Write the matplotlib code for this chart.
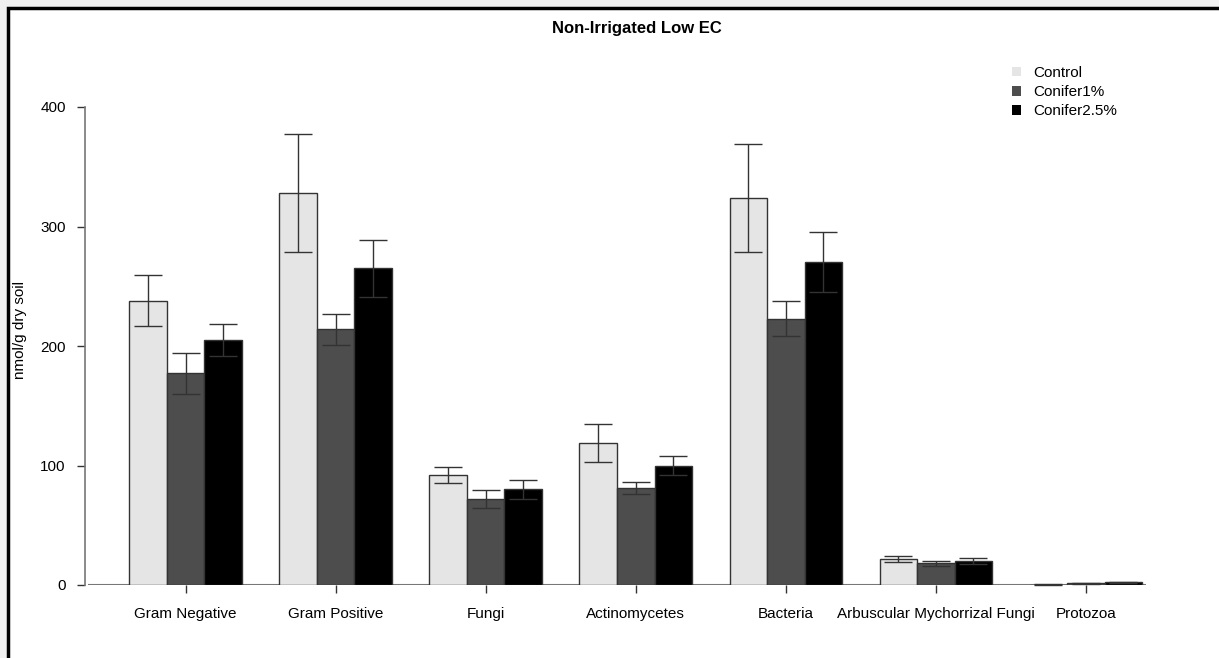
import matplotlib.pyplot as plt
import matplotlib.patches as mpatches
import numpy as np

plt.rcParams['font.family'] = ['Liberation Sans', 'DejaVu Sans']

categories = ['Gram Negative', 'Gram Positive', 'Fungi', 'Actinomycetes',
              'Bacteria', 'Arbuscular Mychorrizal Fungi', 'Protozoa']
treatments = ['Control', 'Conifer1%', 'Conifer2.5%']

control = [238, 328, 92, 119, 324, 21.8, 0.3]
control_err = [21, 49, 7, 16, 45, 2.6, 0.2]
conifer1 = [177, 214, 72, 81, 223, 18.1, 1.4]
conifer1_err = [17, 13, 7.5, 5, 15, 1.8, 0.4]
conifer25 = [205, 265, 80, 100, 270, 20.0, 2.2]
conifer25_err = [13, 24, 8, 8, 25, 2.3, 0.5]

colors = ['#e5e5e5', '#4d4d4d', '#000000']

W, H = 1219, 658
fig = plt.figure(figsize=(W / 100, H / 100), dpi=100)

# outer light strip and black frame like the screenshot
fig.patches.append(mpatches.Rectangle((0, 0), 1, 1, transform=fig.transFigure,
                                      facecolor='#f0f0f0', edgecolor='none', zorder=-3))
fig.patches.append(mpatches.Rectangle((8 / W, -0.1), 1.2, 1 - 8 / H + 0.1,
                                      transform=fig.transFigure, facecolor='white',
                                      edgecolor='black', linewidth=2.5, zorder=-2))

ax = fig.add_axes([88 / W, (H - 585) / H, (1146 - 88) / W, (585 - 107) / H])
ax.set_facecolor('none')

series = [(control, control_err), (conifer1, conifer1_err), (conifer25, conifer25_err)]
n = len(categories)
for j, (vals, errs) in enumerate(series):
    x = np.arange(n) * 4 + 1 + j + 0.5
    ax.bar(x, vals, width=1, color=colors[j], edgecolor='#333333', linewidth=1,
           label=treatments[j], zorder=2)
    ax.errorbar(x, vals, yerr=errs, fmt='none', ecolor='#333333', elinewidth=1,
                capsize=10, capthick=1, zorder=3, clip_on=False)

ax.set_xlim(-0.1, 28.1)
ax.set_ylim(0, 400)
ax.axhline(0, color='#777777', linewidth=1.5, zorder=1, xmin=0, xmax=1)

for s in ['top', 'right', 'bottom']:
    ax.spines[s].set_visible(False)
ax.spines['left'].set_color('#777777')
ax.spines['left'].set_linewidth(1.2)
ax.spines['left'].set_position(('outward', 2))

ax.set_yticks([0, 100, 200, 300, 400])
ax.set_xticks(np.arange(n) * 4 + 2.5)
ax.set_xticklabels(categories)
ax.tick_params(axis='both', labelsize=11, length=6, color='#333333', width=1)
ax.tick_params(axis='x', pad=10)
ax.tick_params(axis='y', pad=8)

fig.text(20 / W, 1 - 330 / H, 'nmol/g dry soil', rotation=90, ha='center', va='center',
         fontsize=11)
fig.text(637 / W, 1 - 29 / H, 'Non-Irrigated Low EC', ha='center', va='center',
         fontsize=12, fontweight='bold')

handles = [mpatches.Patch(facecolor=c, edgecolor='none') for c in colors]
fig.legend(handles, treatments, loc='upper left', bbox_to_anchor=(998 / W, 1 - 52 / H),
           frameon=False, fontsize=11, handlelength=0.6, handleheight=0.6,
           handletextpad=0.8, labelspacing=0.35)

fig.savefig('out.png', dpi=100)
